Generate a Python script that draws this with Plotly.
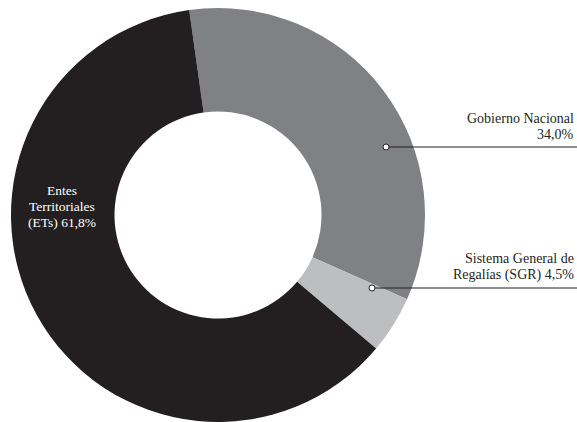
import plotly.graph_objects as go

# Distribution shares by source (percent)
labels = ["Gobierno Nacional", "Sistema General de Regalías (SGR)", "Entes Territoriales (ETs)"]
shares = [34.0, 4.5, 61.8]
colors = ["#808184", "#bcbec0", "#231f20"]

# Label text, one entry per printed line
gn_lines = ["Gobierno Nacional", "34,0%"]
sgr_lines = ["Sistema General de", "Regalías (SGR) 4,5%"]
ets_lines = ["Entes", "Territoriales", "(ETs) 61,8%"]

W, H = 577, 422
FONT = "Liberation Serif, Times New Roman, serif"
INK = "#231f20"


def px(x):
    return x / W


def py(y):
    return 1 - y / H


fig = go.Figure(
    go.Pie(
        labels=labels,
        values=shares,
        marker=dict(colors=colors, line=dict(width=0)),
        hole=0.5,
        sort=False,
        direction="clockwise",
        rotation=-8,
        textinfo="none",
        hoverinfo="label+percent",
        domain=dict(x=[px(11), px(425)], y=[0, py(8)]),
        showlegend=False,
    )
)

shapes = []
# Leader lines with small hollow markers inside the slices
for (x0, y0) in [(386, 147), (372, 288)]:
    shapes.append(dict(type="line", xref="paper", yref="paper",
                       x0=px(x0), y0=py(y0), x1=px(W), y1=py(y0),
                       line=dict(color=INK, width=1.2), layer="above"))
    r = 3
    shapes.append(dict(type="circle", xref="paper", yref="paper",
                       x0=px(x0 - r), x1=px(x0 + r), y0=py(y0 + r), y1=py(y0 - r),
                       fillcolor="white", line=dict(color=INK, width=1), layer="above"))

annotations = []
LINE = 16.5


def add_block(lines, x, y_first, xanchor, color, size):
    for i, t in enumerate(lines):
        annotations.append(dict(
            text=t, x=px(x), y=py(y_first + i * LINE),
            xanchor=xanchor, yanchor="middle",
            font=dict(family=FONT, size=size, color=color),
            xref="paper", yref="paper", showarrow=False,
        ))


add_block(gn_lines, 576, 118, "right", INK, 14)
add_block(sgr_lines, 576, 258, "right", INK, 14)
add_block(ets_lines, 62, 190, "center", "white", 13.5)

fig.update_layout(
    width=W, height=H,
    margin=dict(l=0, r=0, t=0, b=0),
    paper_bgcolor="white",
    plot_bgcolor="white",
    shapes=shapes,
    annotations=annotations,
)

fig.write_html("out.html")
